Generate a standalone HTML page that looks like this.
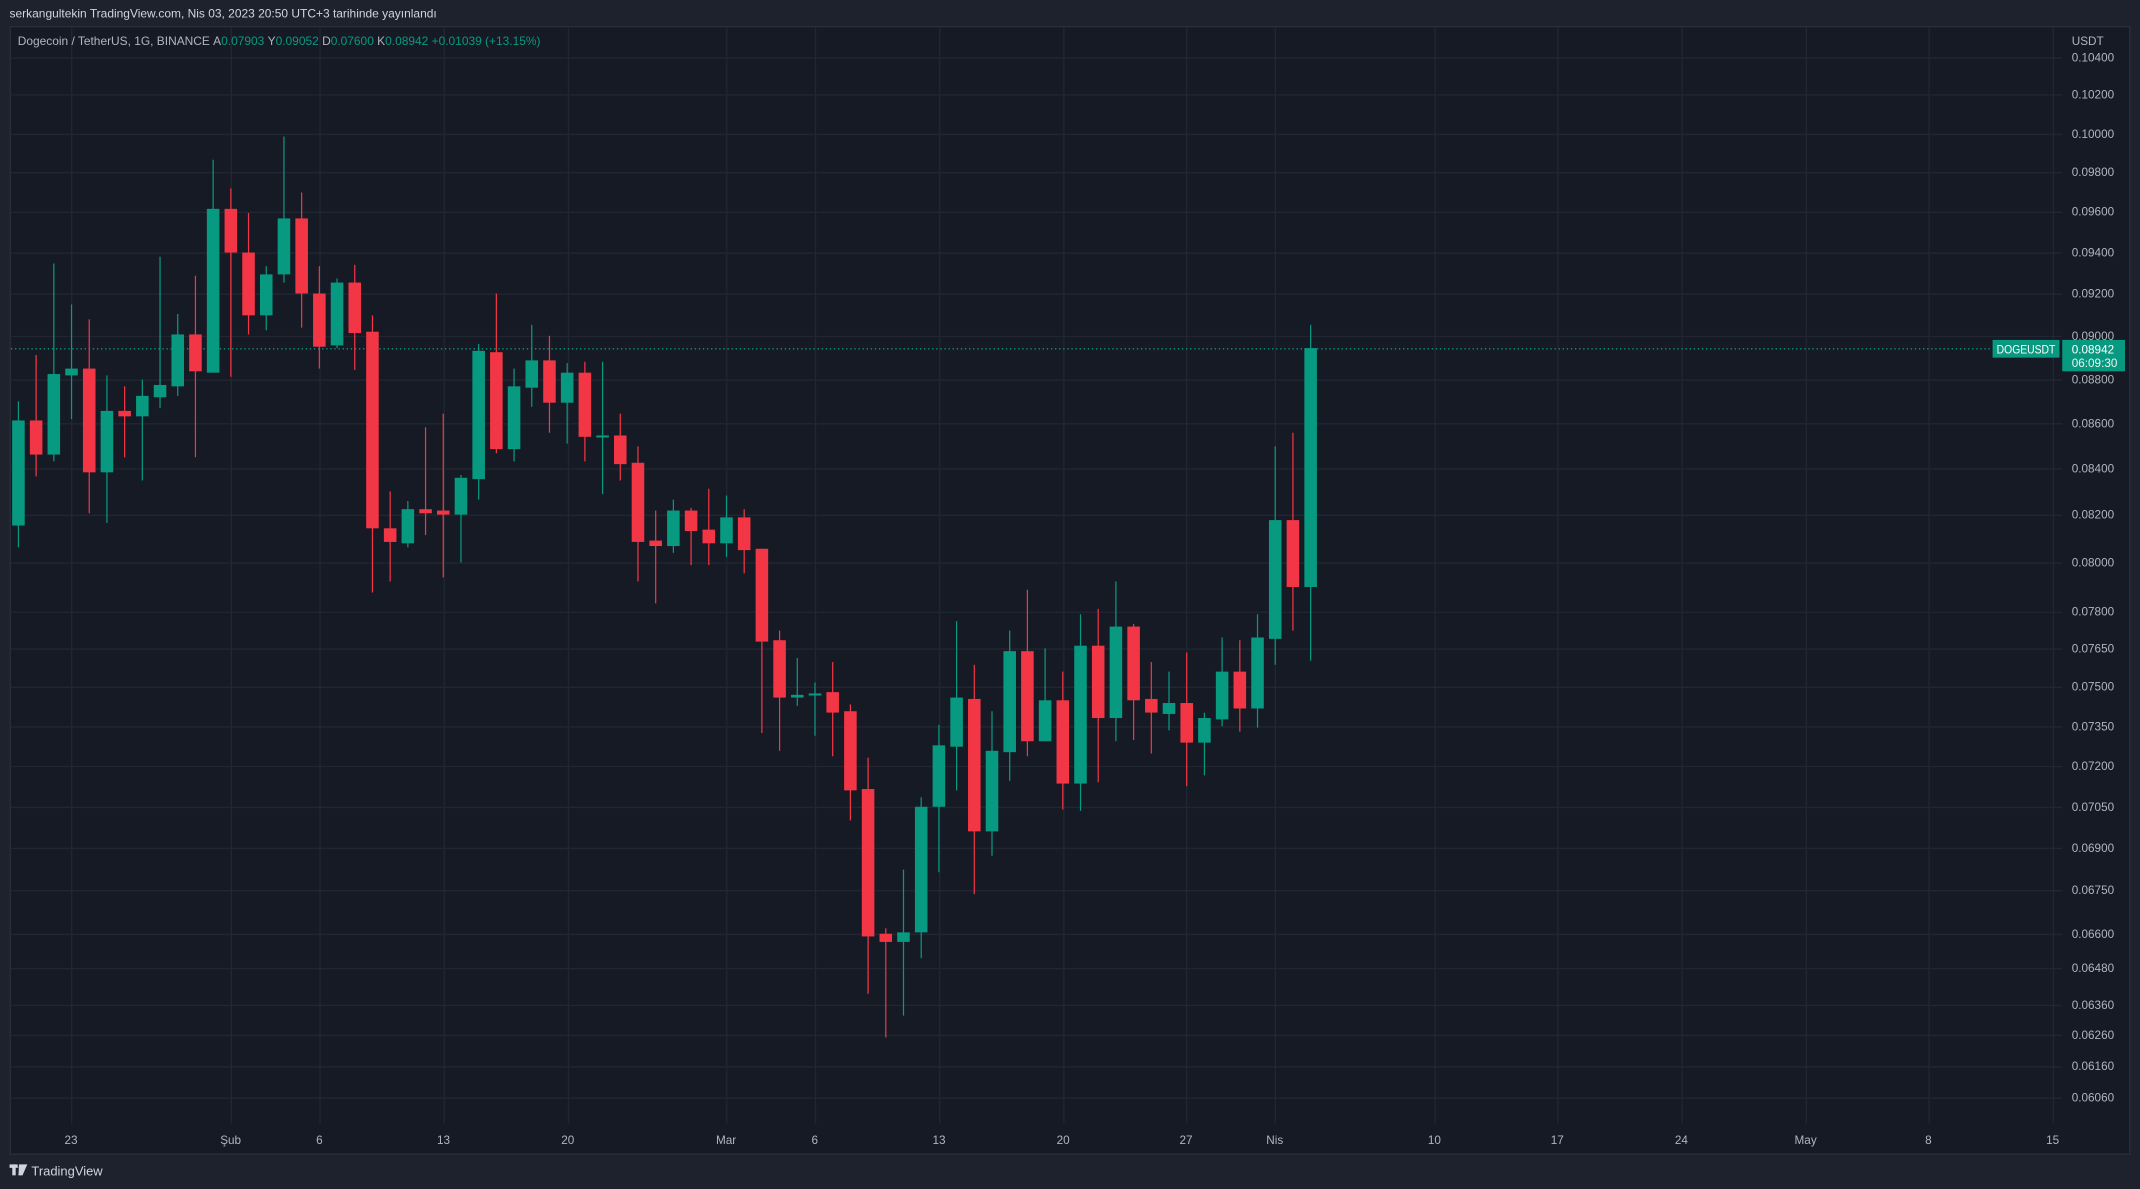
<!DOCTYPE html>
<html><head><meta charset="utf-8"><style>
html,body{margin:0;padding:0;background:#1e222d;overflow:hidden}
svg{display:block}
text{font-family:"Liberation Sans",sans-serif}
</style></head><body>
<svg id="s" width="2140" height="1189" viewBox="0 0 1568 871" preserveAspectRatio="none" xmlns="http://www.w3.org/2000/svg">
<rect x="0" y="0" width="1568" height="871" fill="#1e222d"/>
<rect x="7.5" y="19.5" width="1553" height="826" fill="#161a25" stroke="#2a2e39" stroke-width="1"/>
<g id="grid" stroke="#222632" stroke-width="1"></g>
<line x1="8" y1="255.5" x2="1458" y2="255.5" stroke="#089981" stroke-width="1" stroke-dasharray="1,2"/>
<g id="c"></g>
<text x="7" y="13" font-size="8.6" fill="#d1d4dc" textLength="313" lengthAdjust="spacingAndGlyphs">serkangultekin TradingView.com, Nis 03, 2023 20:50 UTC+3 tarihinde yayınlandı</text>
<text x="13" y="33" font-size="8.6" fill="#b2b5be" textLength="383" lengthAdjust="spacingAndGlyphs">Dogecoin / TetherUS, 1G, BINANCE  <tspan>A</tspan><tspan fill="#089981">0.07903</tspan>  <tspan>Y</tspan><tspan fill="#089981">0.09052</tspan>  <tspan>D</tspan><tspan fill="#089981">0.07600</tspan>  <tspan>K</tspan><tspan fill="#089981">0.08942</tspan>  <tspan fill="#089981">+0.01039 (+13.15%)</tspan></text>
<g id="ax" font-size="8.6" fill="#b2b5be"></g>
<text x="1518" y="33" font-size="8.6" fill="#b2b5be">USDT</text>
<rect x="1460" y="249" width="49" height="13" fill="#089981"/>
<text x="1463" y="259" font-size="8.6" fill="#fff" textLength="43" lengthAdjust="spacingAndGlyphs">DOGEUSDT</text>
<rect x="1511" y="249" width="46" height="23" fill="#089981"/>
<text x="1518" y="259" font-size="8.6" fill="#fff">0.08942</text>
<text x="1518" y="269" font-size="8.6" fill="#e8f5f2">06:09:30</text>
<g fill="#d1d4dc"><rect x="7" y="853" width="6" height="2.5"/><rect x="9" y="853" width="2.5" height="8"/><polygon points="14,853 20,853 16.5,861 13.5,861"/><circle cx="15" cy="855" r="1.3"/></g>
<text x="23" y="861" font-size="9.5" fill="#d1d4dc">TradingView</text>
</svg>
<script>
var NS="http://www.w3.org/2000/svg";
function el(p,t,a){var e=document.createElementNS(NS,t);for(var k in a)e.setAttribute(k,a[k]);p.appendChild(e);return e;}
var grid=document.getElementById('grid'),ax=document.getElementById('ax'),c=document.getElementById('c');
var pl=[["0.10400",42],["0.10200",69],["0.10000",98],["0.09800",126],["0.09600",155],["0.09400",185],["0.09200",215],["0.09000",246],["0.08800",278],["0.08600",310],["0.08400",343],["0.08200",377],["0.08000",412],["0.07800",448],["0.07650",475],["0.07500",503],["0.07350",532],["0.07200",561],["0.07050",591],["0.06900",621],["0.06750",652],["0.06600",684],["0.06480",709],["0.06360",736],["0.06260",758],["0.06160",781],["0.06060",804]];
pl.forEach(function(p){el(grid,'line',{x1:8,x2:1511,y1:p[1]+0.5,y2:p[1]+0.5});var t=el(ax,'text',{x:1518,y:p[1]+3});t.textContent=p[0];});
var tl=[["23",52],["Şub",169],["6",234],["13",325],["20",416],["Mar",532],["6",597],["13",688],["20",779],["27",869],["Nis",934],["10",1051],["17",1141],["24",1232],["May",1323],["8",1413],["15",1504]];
tl.forEach(function(p){el(grid,'line',{x1:p[1]+0.5,x2:p[1]+0.5,y1:20,y2:823});var t=el(ax,'text',{x:p[1],y:838,'text-anchor':'middle'});t.textContent=p[0];});
var d=[
"G 308 385 294 401","R 308 333 260 349","G 274 333 193 338","G 270 275 223 307","R 270 346 234 376","G 301 346 275 383","R 301 305 283 335","G 290 305 278 352","G 282 291 188 299","G 245 283 230 290",
"R 245 272 202 335","G 153 273 117 273","R 153 185 138 276","R 185 231 156 245","G 201 231 195 242","G 160 201 100 207","R 160 215 141 240","R 215 254 195 270","G 207 253 204 255","R 207 244 194 271",
"R 243 387 231 434","R 387 397 360 426","G 373 398 367 401","R 373 376 313 392","R 374 377 303 423","G 350 377 348 412","G 257 351 252 366","R 258 329 215 332","G 283 329 270 338","G 264 284 238 298",
"R 264 295 246 317","G 273 295 266 325","R 273 320 265 338","G 319 320 265 362","R 319 340 303 352","R 339 397 327 426","R 396 400 374 442","G 374 400 366 405","R 374 389 372 414","R 388 398 358 414",
"G 379 398 363 408","R 379 403 373 420","R 402 470 402 537","R 469 511 462 550","G 509 511 482 517","G 508 509 500 539","R 507 522 485 554","R 521 579 516 601","R 578 686 555 728","R 684 690 680 760",
"G 683 690 637 744","G 591 683 584 702","G 546 591 531 639","G 511 547 455 579","R 512 609 487 655","G 550 609 521 627","G 477 551 462 572","R 477 543 432 554","G 513 543 475 543","R 513 574 492 593",
"G 473 574 450 594","R 473 526 446 573","G 459 526 426 543","R 459 513 457 542","R 512 522 485 552","G 515 523 492 535","R 515 544 478 576","G 526 544 522 568","G 492 527 467 532","R 492 519 469 536",
"G 467 519 450 533","G 381 468 327 487","R 381 430 317 462","G 255 430 238 484"];
d.forEach(function(s,i){var a=s.split(' ');var col=a[0]=='G'?'#089981':'#f23645';var t=+a[1],b=+a[2],h=+a[3],l=+a[4];var x=13.5+12.97*i;
el(c,'line',{x1:x,x2:x,y1:h,y2:l,stroke:col,'stroke-width':0.9});
var bh=Math.max(b-t,1.5);el(c,'rect',{x:x-4.6,y:t,width:9.2,height:bh,fill:col});});
</script>
</body></html>
